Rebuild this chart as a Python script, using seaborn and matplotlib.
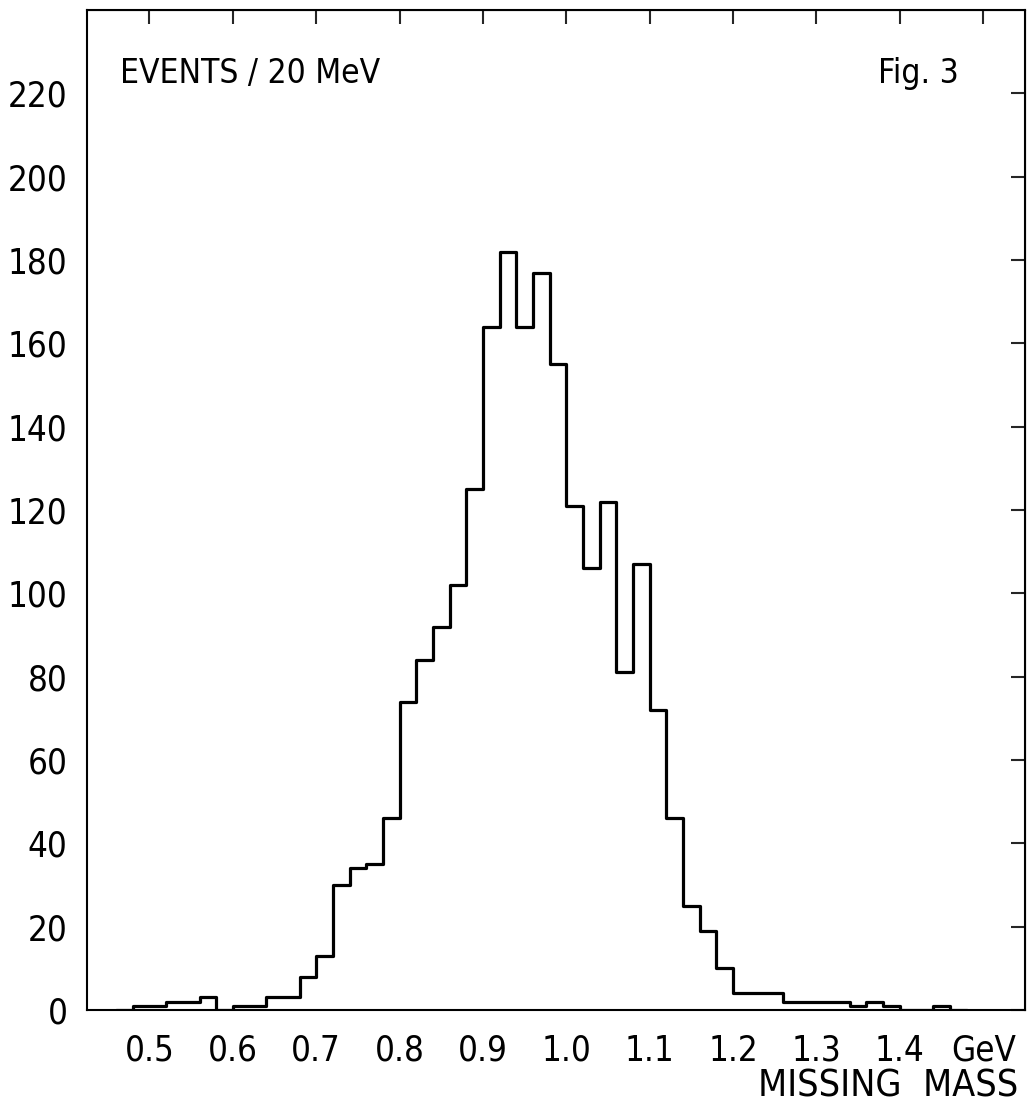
import matplotlib
matplotlib.use("Agg")
import matplotlib.pyplot as plt
import seaborn as sns
import numpy as np
import pandas as pd

# Bin lower edges (GeV), 20 MeV wide (empty bins at both ends close the outline)
bin_low = [0.46, 0.48, 0.50, 0.52, 0.54, 0.56, 0.58, 0.60, 0.62, 0.64, 0.66,
           0.68, 0.70, 0.72, 0.74, 0.76, 0.78, 0.80, 0.82, 0.84, 0.86,
           0.88, 0.90, 0.92, 0.94, 0.96, 0.98, 1.00, 1.02, 1.04, 1.06,
           1.08, 1.10, 1.12, 1.14, 1.16, 1.18, 1.20, 1.22, 1.24, 1.26,
           1.28, 1.30, 1.32, 1.34, 1.36, 1.38, 1.40, 1.42, 1.44, 1.46]
bin_width = 0.02
events = [0, 1, 1, 2, 2, 3, 0, 1, 1, 3, 3,
          8, 13, 30, 34, 35, 46, 74, 84, 92, 102,
          125, 164, 182, 164, 177, 155, 121, 106, 122, 81,
          107, 72, 46, 25, 19, 10, 4, 4, 4, 2,
          2, 2, 2, 1, 2, 1, 0, 0, 1, 0]

x_ticks = [0.5, 0.6, 0.7, 0.8, 0.9, 1.0, 1.1, 1.2, 1.3, 1.4, 1.5]
x_ticklabels = ["0.5", "0.6", "0.7", "0.8", "0.9", "1.0", "1.1", "1.2", "1.3", "1.4", "GeV"]
y_ticks = [0, 20, 40, 60, 80, 100, 120, 140, 160, 180, 200, 220]

sns.set_style("white")
plt.rcParams['font.family'] = ['DejaVu Sans']
plt.rcParams['font.stretch'] = 'condensed'
plt.rcParams['text.color'] = 'black'

edges = list(bin_low) + [bin_low[-1] + bin_width]
centers = [b + bin_width / 2 for b in bin_low]
df = pd.DataFrame({"mass": centers, "events": events})

fig = plt.figure(figsize=(10.29, 11.14), dpi=100)
ax = fig.add_axes([0.0845, 0.0934, 0.9115, 0.8976])

sns.histplot(data=df, x="mass", weights="events", bins=edges,
             element="step", fill=False, color="black", linewidth=2.3, ax=ax)

ax.set_xlim(0.425, 1.55)
ax.set_ylim(0, 240)
ax.set_xlabel("")
ax.set_ylabel("")

ax.set_xticks(x_ticks)
ax.set_xticklabels(x_ticklabels)
ax.set_yticks(y_ticks)
ax.tick_params(axis="both", labelsize=25, colors="black", width=1.5, length=11)
ax.tick_params(axis="x", direction="out", top=False, pad=6)
ax.tick_params(axis="y", direction="out", right=False, pad=3)
for s in ax.spines.values():
    s.set_color("black")
    s.set_linewidth(1.5)

# top and right inward ticks
ax_top = ax.secondary_xaxis("top")
ax_top.set_xticks(x_ticks)
ax_top.tick_params(axis="x", direction="in", length=10, width=1.5, labeltop=False)
ax_right = ax.secondary_yaxis("right")
ax_right.set_yticks(y_ticks)
ax_right.tick_params(axis="y", direction="in", length=10, width=1.5, labelright=False)

ax.text(0.035, 0.937, "EVENTS / 20 MeV", transform=ax.transAxes, fontsize=24,
        ha="left", va="center")
ax.text(0.93, 0.937, "Fig. 3", transform=ax.transAxes, fontsize=24,
        ha="right", va="center")
fig.text(0.99, 0.025, "MISSING  MASS", fontsize=27, ha="right", va="center")

fig.savefig("out.png", dpi=100, facecolor="white")
